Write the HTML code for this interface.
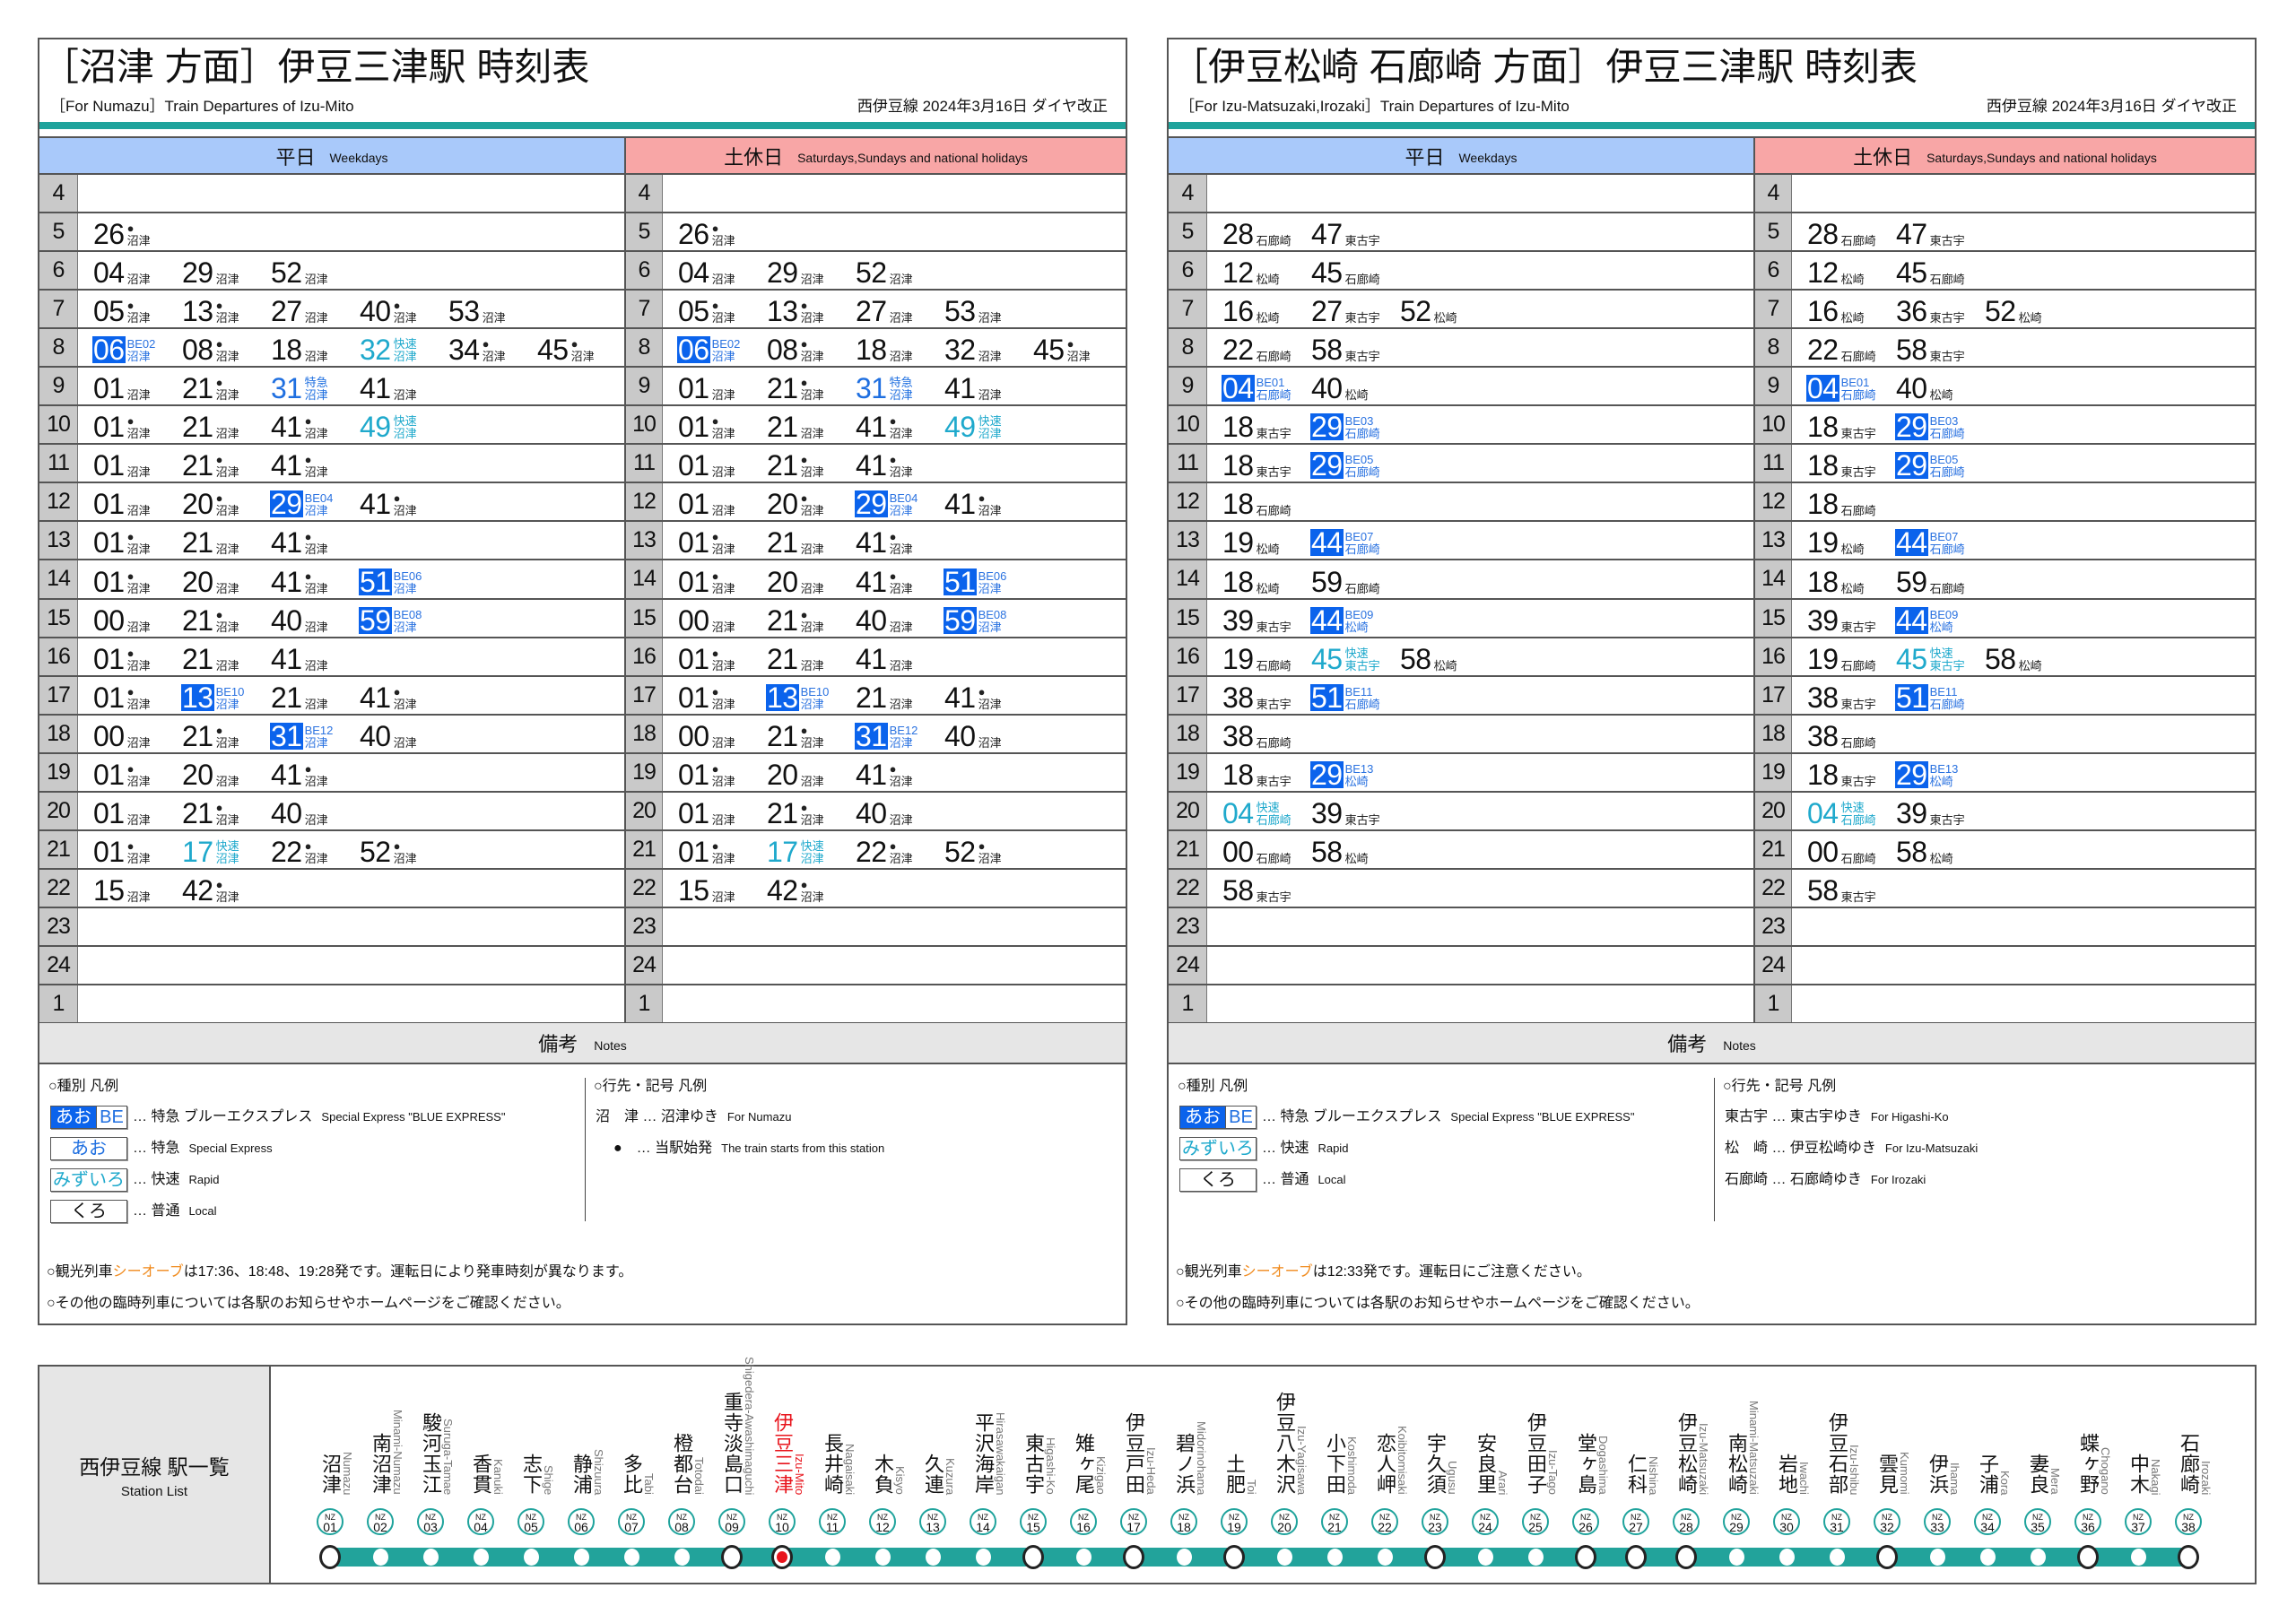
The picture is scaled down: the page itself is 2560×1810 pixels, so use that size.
<!DOCTYPE html>
<html><head><meta charset="utf-8"><style>
*{box-sizing:border-box;margin:0;padding:0}
body{width:2560px;height:1810px;background:#fff;position:relative;overflow:hidden;font-family:"Liberation Sans","Noto Sans CJK JP",sans-serif;color:#111}
.p{position:absolute;top:42px;width:1215px;height:1436px;border:2px solid #555;background:#fff}
.ttl{position:absolute;left:2px;top:6px;font-size:42px;line-height:50px;white-space:nowrap}
.sub{position:absolute;left:12px;top:64px;font-size:17px;line-height:22px}
.rev{position:absolute;right:20px;top:64px;font-size:17px;line-height:22px}
.bar{position:absolute;left:0;right:0;top:92px;height:8px;background:#1fa39c}
.hd{position:absolute;top:108px;left:0;right:0;height:43px;display:grid;grid-template-columns:652px 1fr;border-top:2px solid #555;border-bottom:2px solid #555}
.hd div{display:flex;align-items:center;justify-content:center;font-size:22px}
.hd small{font-size:14px;margin-left:16px;margin-top:4px}
.wk{background:#a9c9fa}.hol{background:#f8a6a6;border-left:2px solid #555}
.tb{position:absolute;top:151px;left:0;right:0}
.r{height:43.05px;display:grid;grid-template-columns:43px 609px 43px 1fr;border-bottom:2px solid #555}
.h{background:#c9c9c9;font-size:25px;display:flex;align-items:center;justify-content:center;border-right:1px solid #777;letter-spacing:-1px}
.h2{border-left:2px solid #555}
.c{display:flex;padding-left:16px;align-items:flex-end}
.e{width:99px;display:flex;align-items:flex-end;height:41px;padding-bottom:3px;flex:none}
.e b{font-weight:normal;font-size:32px;line-height:30px;letter-spacing:-0.5px;padding:0 1px}
.e i{font-style:normal;font-size:13px;line-height:14px;display:flex;flex-direction:column;margin-left:2px;color:#222}
.e u{text-decoration:none;height:15px;font-size:13px;line-height:15px}
.be b{background:#0b63ec;color:#fff}.be i{color:#2a72e0}
.lt b,.lt i{color:#1f6fe0}
.rp b,.rp i{color:#1fa9cc}
.nh{position:absolute;left:0;right:0;top:1097px;height:46px;background:#e6e6e6;border-bottom:2px solid #555;display:flex;align-items:center;justify-content:center;font-size:22px}
.nh small{font-size:14px;margin-left:18px;margin-top:6px}
.nt{position:absolute;font-size:16px;line-height:20px;white-space:nowrap}
.nt small{font-size:13px;margin-left:10px}
.bx{position:absolute;width:86px;height:26px;border:1px solid #555;box-shadow:1px 1px 0 #999;font-size:20px;line-height:24px;text-align:center}
.dv{position:absolute;width:1px;background:#444}
.sl{position:absolute;left:42px;top:1522px;width:2474px;height:245px;border:2px solid #555}
.sll{position:absolute;left:0;top:0;width:258px;height:100%;background:#e6e6e6;border-right:2px solid #555;display:flex;flex-direction:column;align-items:center;justify-content:center;font-size:23px}
.sll small{font-size:15px;margin-top:4px}
.trk{position:absolute;left:324px;top:202px;width:2072px;height:21px;background:#22a39b}
.st{position:absolute;top:0;height:143px;width:0}
.k{position:absolute;bottom:0;left:-12px;writing-mode:vertical-rl;font-size:22px;line-height:24px;letter-spacing:1px;white-space:nowrap}
.ro{position:absolute;bottom:0;left:12px;writing-mode:vertical-rl;font-size:13px;line-height:14px;color:#777;white-space:nowrap}
.nz{position:absolute;top:158px;width:30px;height:30px;margin-left:-15px;border:2px solid #1fa39c;border-radius:50%;text-align:center;font-size:9px;line-height:9px;padding-top:4px}
.nz span{display:block;font-size:14px;line-height:13px}
.dt{position:absolute;top:203px;width:17px;height:19px;margin-left:-8px;border-radius:50%;background:#fff}
.mj{position:absolute;top:199px;width:24px;height:27px;margin-left:-12px;border-radius:50%;background:#fff;border:3px solid #222}
</style></head><body>

<!-- LEFT PANEL -->
<div class="p" style="left:42px">
<div class="ttl">［沼津 方面］伊豆三津駅 時刻表</div>
<div class="sub">［For Numazu］Train Departures of Izu-Mito</div>
<div class="rev">西伊豆線 2024年3月16日 ダイヤ改正</div>
<div class="bar"></div>
<div class="hd"><div class="wk">平日<small>Weekdays</small></div><div class="hol">土休日<small>Saturdays,Sundays and national holidays</small></div></div>
<div class="tb">
<div class="r"><div class="h">4</div><div class="c"></div><div class="h h2">4</div><div class="c"></div></div>
<div class="r"><div class="h">5</div><div class="c"><span class="e"><b>26</b><i><u>●</u>沼津</i></span></div><div class="h h2">5</div><div class="c"><span class="e"><b>26</b><i><u>●</u>沼津</i></span></div></div>
<div class="r"><div class="h">6</div><div class="c"><span class="e"><b>04</b><i><u></u>沼津</i></span><span class="e"><b>29</b><i><u></u>沼津</i></span><span class="e"><b>52</b><i><u></u>沼津</i></span></div><div class="h h2">6</div><div class="c"><span class="e"><b>04</b><i><u></u>沼津</i></span><span class="e"><b>29</b><i><u></u>沼津</i></span><span class="e"><b>52</b><i><u></u>沼津</i></span></div></div>
<div class="r"><div class="h">7</div><div class="c"><span class="e"><b>05</b><i><u>●</u>沼津</i></span><span class="e"><b>13</b><i><u>●</u>沼津</i></span><span class="e"><b>27</b><i><u></u>沼津</i></span><span class="e"><b>40</b><i><u>●</u>沼津</i></span><span class="e"><b>53</b><i><u></u>沼津</i></span></div><div class="h h2">7</div><div class="c"><span class="e"><b>05</b><i><u>●</u>沼津</i></span><span class="e"><b>13</b><i><u>●</u>沼津</i></span><span class="e"><b>27</b><i><u></u>沼津</i></span><span class="e"><b>53</b><i><u></u>沼津</i></span></div></div>
<div class="r"><div class="h">8</div><div class="c"><span class="e be"><b>06</b><i><u>BE02</u>沼津</i></span><span class="e"><b>08</b><i><u>●</u>沼津</i></span><span class="e"><b>18</b><i><u></u>沼津</i></span><span class="e rp"><b>32</b><i><u>快速</u>沼津</i></span><span class="e"><b>34</b><i><u>●</u>沼津</i></span><span class="e"><b>45</b><i><u>●</u>沼津</i></span></div><div class="h h2">8</div><div class="c"><span class="e be"><b>06</b><i><u>BE02</u>沼津</i></span><span class="e"><b>08</b><i><u>●</u>沼津</i></span><span class="e"><b>18</b><i><u></u>沼津</i></span><span class="e"><b>32</b><i><u></u>沼津</i></span><span class="e"><b>45</b><i><u>●</u>沼津</i></span></div></div>
<div class="r"><div class="h">9</div><div class="c"><span class="e"><b>01</b><i><u></u>沼津</i></span><span class="e"><b>21</b><i><u>●</u>沼津</i></span><span class="e lt"><b>31</b><i><u>特急</u>沼津</i></span><span class="e"><b>41</b><i><u></u>沼津</i></span></div><div class="h h2">9</div><div class="c"><span class="e"><b>01</b><i><u></u>沼津</i></span><span class="e"><b>21</b><i><u>●</u>沼津</i></span><span class="e lt"><b>31</b><i><u>特急</u>沼津</i></span><span class="e"><b>41</b><i><u></u>沼津</i></span></div></div>
<div class="r"><div class="h">10</div><div class="c"><span class="e"><b>01</b><i><u>●</u>沼津</i></span><span class="e"><b>21</b><i><u></u>沼津</i></span><span class="e"><b>41</b><i><u>●</u>沼津</i></span><span class="e rp"><b>49</b><i><u>快速</u>沼津</i></span></div><div class="h h2">10</div><div class="c"><span class="e"><b>01</b><i><u>●</u>沼津</i></span><span class="e"><b>21</b><i><u></u>沼津</i></span><span class="e"><b>41</b><i><u>●</u>沼津</i></span><span class="e rp"><b>49</b><i><u>快速</u>沼津</i></span></div></div>
<div class="r"><div class="h">11</div><div class="c"><span class="e"><b>01</b><i><u></u>沼津</i></span><span class="e"><b>21</b><i><u>●</u>沼津</i></span><span class="e"><b>41</b><i><u>●</u>沼津</i></span></div><div class="h h2">11</div><div class="c"><span class="e"><b>01</b><i><u></u>沼津</i></span><span class="e"><b>21</b><i><u>●</u>沼津</i></span><span class="e"><b>41</b><i><u>●</u>沼津</i></span></div></div>
<div class="r"><div class="h">12</div><div class="c"><span class="e"><b>01</b><i><u></u>沼津</i></span><span class="e"><b>20</b><i><u>●</u>沼津</i></span><span class="e be"><b>29</b><i><u>BE04</u>沼津</i></span><span class="e"><b>41</b><i><u>●</u>沼津</i></span></div><div class="h h2">12</div><div class="c"><span class="e"><b>01</b><i><u></u>沼津</i></span><span class="e"><b>20</b><i><u>●</u>沼津</i></span><span class="e be"><b>29</b><i><u>BE04</u>沼津</i></span><span class="e"><b>41</b><i><u>●</u>沼津</i></span></div></div>
<div class="r"><div class="h">13</div><div class="c"><span class="e"><b>01</b><i><u>●</u>沼津</i></span><span class="e"><b>21</b><i><u></u>沼津</i></span><span class="e"><b>41</b><i><u>●</u>沼津</i></span></div><div class="h h2">13</div><div class="c"><span class="e"><b>01</b><i><u>●</u>沼津</i></span><span class="e"><b>21</b><i><u></u>沼津</i></span><span class="e"><b>41</b><i><u>●</u>沼津</i></span></div></div>
<div class="r"><div class="h">14</div><div class="c"><span class="e"><b>01</b><i><u>●</u>沼津</i></span><span class="e"><b>20</b><i><u></u>沼津</i></span><span class="e"><b>41</b><i><u>●</u>沼津</i></span><span class="e be"><b>51</b><i><u>BE06</u>沼津</i></span></div><div class="h h2">14</div><div class="c"><span class="e"><b>01</b><i><u>●</u>沼津</i></span><span class="e"><b>20</b><i><u></u>沼津</i></span><span class="e"><b>41</b><i><u>●</u>沼津</i></span><span class="e be"><b>51</b><i><u>BE06</u>沼津</i></span></div></div>
<div class="r"><div class="h">15</div><div class="c"><span class="e"><b>00</b><i><u></u>沼津</i></span><span class="e"><b>21</b><i><u>●</u>沼津</i></span><span class="e"><b>40</b><i><u></u>沼津</i></span><span class="e be"><b>59</b><i><u>BE08</u>沼津</i></span></div><div class="h h2">15</div><div class="c"><span class="e"><b>00</b><i><u></u>沼津</i></span><span class="e"><b>21</b><i><u>●</u>沼津</i></span><span class="e"><b>40</b><i><u></u>沼津</i></span><span class="e be"><b>59</b><i><u>BE08</u>沼津</i></span></div></div>
<div class="r"><div class="h">16</div><div class="c"><span class="e"><b>01</b><i><u>●</u>沼津</i></span><span class="e"><b>21</b><i><u></u>沼津</i></span><span class="e"><b>41</b><i><u></u>沼津</i></span></div><div class="h h2">16</div><div class="c"><span class="e"><b>01</b><i><u>●</u>沼津</i></span><span class="e"><b>21</b><i><u></u>沼津</i></span><span class="e"><b>41</b><i><u></u>沼津</i></span></div></div>
<div class="r"><div class="h">17</div><div class="c"><span class="e"><b>01</b><i><u>●</u>沼津</i></span><span class="e be"><b>13</b><i><u>BE10</u>沼津</i></span><span class="e"><b>21</b><i><u></u>沼津</i></span><span class="e"><b>41</b><i><u>●</u>沼津</i></span></div><div class="h h2">17</div><div class="c"><span class="e"><b>01</b><i><u>●</u>沼津</i></span><span class="e be"><b>13</b><i><u>BE10</u>沼津</i></span><span class="e"><b>21</b><i><u></u>沼津</i></span><span class="e"><b>41</b><i><u>●</u>沼津</i></span></div></div>
<div class="r"><div class="h">18</div><div class="c"><span class="e"><b>00</b><i><u></u>沼津</i></span><span class="e"><b>21</b><i><u>●</u>沼津</i></span><span class="e be"><b>31</b><i><u>BE12</u>沼津</i></span><span class="e"><b>40</b><i><u></u>沼津</i></span></div><div class="h h2">18</div><div class="c"><span class="e"><b>00</b><i><u></u>沼津</i></span><span class="e"><b>21</b><i><u>●</u>沼津</i></span><span class="e be"><b>31</b><i><u>BE12</u>沼津</i></span><span class="e"><b>40</b><i><u></u>沼津</i></span></div></div>
<div class="r"><div class="h">19</div><div class="c"><span class="e"><b>01</b><i><u>●</u>沼津</i></span><span class="e"><b>20</b><i><u></u>沼津</i></span><span class="e"><b>41</b><i><u>●</u>沼津</i></span></div><div class="h h2">19</div><div class="c"><span class="e"><b>01</b><i><u>●</u>沼津</i></span><span class="e"><b>20</b><i><u></u>沼津</i></span><span class="e"><b>41</b><i><u>●</u>沼津</i></span></div></div>
<div class="r"><div class="h">20</div><div class="c"><span class="e"><b>01</b><i><u></u>沼津</i></span><span class="e"><b>21</b><i><u>●</u>沼津</i></span><span class="e"><b>40</b><i><u></u>沼津</i></span></div><div class="h h2">20</div><div class="c"><span class="e"><b>01</b><i><u></u>沼津</i></span><span class="e"><b>21</b><i><u>●</u>沼津</i></span><span class="e"><b>40</b><i><u></u>沼津</i></span></div></div>
<div class="r"><div class="h">21</div><div class="c"><span class="e"><b>01</b><i><u>●</u>沼津</i></span><span class="e rp"><b>17</b><i><u>快速</u>沼津</i></span><span class="e"><b>22</b><i><u>●</u>沼津</i></span><span class="e"><b>52</b><i><u>●</u>沼津</i></span></div><div class="h h2">21</div><div class="c"><span class="e"><b>01</b><i><u>●</u>沼津</i></span><span class="e rp"><b>17</b><i><u>快速</u>沼津</i></span><span class="e"><b>22</b><i><u>●</u>沼津</i></span><span class="e"><b>52</b><i><u>●</u>沼津</i></span></div></div>
<div class="r"><div class="h">22</div><div class="c"><span class="e"><b>15</b><i><u></u>沼津</i></span><span class="e"><b>42</b><i><u>●</u>沼津</i></span></div><div class="h h2">22</div><div class="c"><span class="e"><b>15</b><i><u></u>沼津</i></span><span class="e"><b>42</b><i><u>●</u>沼津</i></span></div></div>
<div class="r"><div class="h">23</div><div class="c"></div><div class="h h2">23</div><div class="c"></div></div>
<div class="r"><div class="h">24</div><div class="c"></div><div class="h h2">24</div><div class="c"></div></div>
<div class="r"><div class="h">1</div><div class="c"></div><div class="h h2">1</div><div class="c"></div></div>
</div>
<div class="nh">備考<small>Notes</small></div>
<div class="nt" style="left:10px;top:1158px">○種別 凡例</div>
<div class="bx" style="left:12px;top:1189px;display:flex;padding:0"><span style="flex:1;background:#0b63ec;color:#fff">あお</span><span style="width:34px;color:#1f6fe0;border-left:1px solid #555">BE</span></div>
<div class="nt" style="left:104px;top:1192px">… 特急 ブルーエクスプレス<small>Special Express "BLUE EXPRESS"</small></div>
<div class="bx" style="left:12px;top:1224px;color:#1f6fe0">あお</div>
<div class="nt" style="left:104px;top:1227px">… 特急<small>Special Express</small></div>
<div class="bx" style="left:12px;top:1259px;color:#1fa9cc">みずいろ</div>
<div class="nt" style="left:104px;top:1262px">… 快速<small>Rapid</small></div>
<div class="bx" style="left:12px;top:1294px">くろ</div>
<div class="nt" style="left:104px;top:1297px">… 普通<small>Local</small></div>
<div class="dv" style="left:608px;top:1158px;height:160px"></div>
<div class="nt" style="left:618px;top:1158px">○行先・記号 凡例</div>
<div class="nt" style="left:620px;top:1192px">沼　津 … 沼津ゆき<small>For Numazu</small></div>
<div class="nt" style="left:640px;top:1227px">●　… 当駅始発<small>The train starts from this station</small></div>
<div class="nt" style="left:8px;top:1365px">○観光列車<span style="color:#f08a1c">シーオーブ</span>は17:36、18:48、19:28発です。運転日により発車時刻が異なります。</div>
<div class="nt" style="left:8px;top:1400px">○その他の臨時列車については各駅のお知らせやホームページをご確認ください。</div>
</div>

<!-- RIGHT PANEL -->
<div class="p" style="left:1301px">
<div class="ttl">［伊豆松崎 石廊崎 方面］伊豆三津駅 時刻表</div>
<div class="sub">［For Izu-Matsuzaki,Irozaki］Train Departures of Izu-Mito</div>
<div class="rev">西伊豆線 2024年3月16日 ダイヤ改正</div>
<div class="bar"></div>
<div class="hd"><div class="wk">平日<small>Weekdays</small></div><div class="hol">土休日<small>Saturdays,Sundays and national holidays</small></div></div>
<div class="tb">
<div class="r"><div class="h">4</div><div class="c"></div><div class="h h2">4</div><div class="c"></div></div>
<div class="r"><div class="h">5</div><div class="c"><span class="e"><b>28</b><i><u></u>石廊崎</i></span><span class="e"><b>47</b><i><u></u>東古宇</i></span></div><div class="h h2">5</div><div class="c"><span class="e"><b>28</b><i><u></u>石廊崎</i></span><span class="e"><b>47</b><i><u></u>東古宇</i></span></div></div>
<div class="r"><div class="h">6</div><div class="c"><span class="e"><b>12</b><i><u></u>松崎</i></span><span class="e"><b>45</b><i><u></u>石廊崎</i></span></div><div class="h h2">6</div><div class="c"><span class="e"><b>12</b><i><u></u>松崎</i></span><span class="e"><b>45</b><i><u></u>石廊崎</i></span></div></div>
<div class="r"><div class="h">7</div><div class="c"><span class="e"><b>16</b><i><u></u>松崎</i></span><span class="e"><b>27</b><i><u></u>東古宇</i></span><span class="e"><b>52</b><i><u></u>松崎</i></span></div><div class="h h2">7</div><div class="c"><span class="e"><b>16</b><i><u></u>松崎</i></span><span class="e"><b>36</b><i><u></u>東古宇</i></span><span class="e"><b>52</b><i><u></u>松崎</i></span></div></div>
<div class="r"><div class="h">8</div><div class="c"><span class="e"><b>22</b><i><u></u>石廊崎</i></span><span class="e"><b>58</b><i><u></u>東古宇</i></span></div><div class="h h2">8</div><div class="c"><span class="e"><b>22</b><i><u></u>石廊崎</i></span><span class="e"><b>58</b><i><u></u>東古宇</i></span></div></div>
<div class="r"><div class="h">9</div><div class="c"><span class="e be"><b>04</b><i><u>BE01</u>石廊崎</i></span><span class="e"><b>40</b><i><u></u>松崎</i></span></div><div class="h h2">9</div><div class="c"><span class="e be"><b>04</b><i><u>BE01</u>石廊崎</i></span><span class="e"><b>40</b><i><u></u>松崎</i></span></div></div>
<div class="r"><div class="h">10</div><div class="c"><span class="e"><b>18</b><i><u></u>東古宇</i></span><span class="e be"><b>29</b><i><u>BE03</u>石廊崎</i></span></div><div class="h h2">10</div><div class="c"><span class="e"><b>18</b><i><u></u>東古宇</i></span><span class="e be"><b>29</b><i><u>BE03</u>石廊崎</i></span></div></div>
<div class="r"><div class="h">11</div><div class="c"><span class="e"><b>18</b><i><u></u>東古宇</i></span><span class="e be"><b>29</b><i><u>BE05</u>石廊崎</i></span></div><div class="h h2">11</div><div class="c"><span class="e"><b>18</b><i><u></u>東古宇</i></span><span class="e be"><b>29</b><i><u>BE05</u>石廊崎</i></span></div></div>
<div class="r"><div class="h">12</div><div class="c"><span class="e"><b>18</b><i><u></u>石廊崎</i></span></div><div class="h h2">12</div><div class="c"><span class="e"><b>18</b><i><u></u>石廊崎</i></span></div></div>
<div class="r"><div class="h">13</div><div class="c"><span class="e"><b>19</b><i><u></u>松崎</i></span><span class="e be"><b>44</b><i><u>BE07</u>石廊崎</i></span></div><div class="h h2">13</div><div class="c"><span class="e"><b>19</b><i><u></u>松崎</i></span><span class="e be"><b>44</b><i><u>BE07</u>石廊崎</i></span></div></div>
<div class="r"><div class="h">14</div><div class="c"><span class="e"><b>18</b><i><u></u>松崎</i></span><span class="e"><b>59</b><i><u></u>石廊崎</i></span></div><div class="h h2">14</div><div class="c"><span class="e"><b>18</b><i><u></u>松崎</i></span><span class="e"><b>59</b><i><u></u>石廊崎</i></span></div></div>
<div class="r"><div class="h">15</div><div class="c"><span class="e"><b>39</b><i><u></u>東古宇</i></span><span class="e be"><b>44</b><i><u>BE09</u>松崎</i></span></div><div class="h h2">15</div><div class="c"><span class="e"><b>39</b><i><u></u>東古宇</i></span><span class="e be"><b>44</b><i><u>BE09</u>松崎</i></span></div></div>
<div class="r"><div class="h">16</div><div class="c"><span class="e"><b>19</b><i><u></u>石廊崎</i></span><span class="e rp"><b>45</b><i><u>快速</u>東古宇</i></span><span class="e"><b>58</b><i><u></u>松崎</i></span></div><div class="h h2">16</div><div class="c"><span class="e"><b>19</b><i><u></u>石廊崎</i></span><span class="e rp"><b>45</b><i><u>快速</u>東古宇</i></span><span class="e"><b>58</b><i><u></u>松崎</i></span></div></div>
<div class="r"><div class="h">17</div><div class="c"><span class="e"><b>38</b><i><u></u>東古宇</i></span><span class="e be"><b>51</b><i><u>BE11</u>石廊崎</i></span></div><div class="h h2">17</div><div class="c"><span class="e"><b>38</b><i><u></u>東古宇</i></span><span class="e be"><b>51</b><i><u>BE11</u>石廊崎</i></span></div></div>
<div class="r"><div class="h">18</div><div class="c"><span class="e"><b>38</b><i><u></u>石廊崎</i></span></div><div class="h h2">18</div><div class="c"><span class="e"><b>38</b><i><u></u>石廊崎</i></span></div></div>
<div class="r"><div class="h">19</div><div class="c"><span class="e"><b>18</b><i><u></u>東古宇</i></span><span class="e be"><b>29</b><i><u>BE13</u>松崎</i></span></div><div class="h h2">19</div><div class="c"><span class="e"><b>18</b><i><u></u>東古宇</i></span><span class="e be"><b>29</b><i><u>BE13</u>松崎</i></span></div></div>
<div class="r"><div class="h">20</div><div class="c"><span class="e rp"><b>04</b><i><u>快速</u>石廊崎</i></span><span class="e"><b>39</b><i><u></u>東古宇</i></span></div><div class="h h2">20</div><div class="c"><span class="e rp"><b>04</b><i><u>快速</u>石廊崎</i></span><span class="e"><b>39</b><i><u></u>東古宇</i></span></div></div>
<div class="r"><div class="h">21</div><div class="c"><span class="e"><b>00</b><i><u></u>石廊崎</i></span><span class="e"><b>58</b><i><u></u>松崎</i></span></div><div class="h h2">21</div><div class="c"><span class="e"><b>00</b><i><u></u>石廊崎</i></span><span class="e"><b>58</b><i><u></u>松崎</i></span></div></div>
<div class="r"><div class="h">22</div><div class="c"><span class="e"><b>58</b><i><u></u>東古宇</i></span></div><div class="h h2">22</div><div class="c"><span class="e"><b>58</b><i><u></u>東古宇</i></span></div></div>
<div class="r"><div class="h">23</div><div class="c"></div><div class="h h2">23</div><div class="c"></div></div>
<div class="r"><div class="h">24</div><div class="c"></div><div class="h h2">24</div><div class="c"></div></div>
<div class="r"><div class="h">1</div><div class="c"></div><div class="h h2">1</div><div class="c"></div></div>
</div>
<div class="nh">備考<small>Notes</small></div>
<div class="nt" style="left:10px;top:1158px">○種別 凡例</div>
<div class="bx" style="left:12px;top:1189px;display:flex;padding:0"><span style="flex:1;background:#0b63ec;color:#fff">あお</span><span style="width:34px;color:#1f6fe0;border-left:1px solid #555">BE</span></div>
<div class="nt" style="left:104px;top:1192px">… 特急 ブルーエクスプレス<small>Special Express "BLUE EXPRESS"</small></div>
<div class="bx" style="left:12px;top:1224px;color:#1fa9cc">みずいろ</div>
<div class="nt" style="left:104px;top:1227px">… 快速<small>Rapid</small></div>
<div class="bx" style="left:12px;top:1259px">くろ</div>
<div class="nt" style="left:104px;top:1262px">… 普通<small>Local</small></div>
<div class="dv" style="left:608px;top:1158px;height:160px"></div>
<div class="nt" style="left:618px;top:1158px">○行先・記号 凡例</div>
<div class="nt" style="left:620px;top:1192px">東古宇 … 東古宇ゆき<small>For Higashi-Ko</small></div>
<div class="nt" style="left:620px;top:1227px">松　崎 … 伊豆松崎ゆき<small>For Izu-Matsuzaki</small></div>
<div class="nt" style="left:620px;top:1262px">石廊崎 … 石廊崎ゆき<small>For Irozaki</small></div>
<div class="nt" style="left:8px;top:1365px">○観光列車<span style="color:#f08a1c">シーオーブ</span>は12:33発です。運転日にご注意ください。</div>
<div class="nt" style="left:8px;top:1400px">○その他の臨時列車については各駅のお知らせやホームページをご確認ください。</div>
</div>

<!-- STATION LIST -->
<div class="sl">
<div class="sll">西伊豆線 駅一覧<small>Station List</small></div>
<div class="trk"></div>
<div class="st" style="left:324px"><span class="k">沼津</span><span class="ro">Numazu</span></div>
<div class="st" style="left:380px"><span class="k">南沼津</span><span class="ro">Minami-Numazu</span></div>
<div class="st" style="left:436px"><span class="k">駿河玉江</span><span class="ro">Suruga-Tamae</span></div>
<div class="st" style="left:492px"><span class="k">香貫</span><span class="ro">Kanuki</span></div>
<div class="st" style="left:548px"><span class="k">志下</span><span class="ro">Shige</span></div>
<div class="st" style="left:604px"><span class="k">静浦</span><span class="ro">Shizuura</span></div>
<div class="st" style="left:660px"><span class="k">多比</span><span class="ro">Tabi</span></div>
<div class="st" style="left:716px"><span class="k">橙都台</span><span class="ro">Totodai</span></div>
<div class="st" style="left:772px"><span class="k">重寺淡島口</span><span class="ro">Shigedera-Awashimaguchi</span></div>
<div class="st" style="left:828px"><span class="k" style="color:#e8141c">伊豆三津</span><span class="ro" style="color:#e8141c">Izu-Mito</span></div>
<div class="st" style="left:884px"><span class="k">長井崎</span><span class="ro">Nagaisaki</span></div>
<div class="st" style="left:940px"><span class="k">木負</span><span class="ro">Kisyo</span></div>
<div class="st" style="left:996px"><span class="k">久連</span><span class="ro">Kuzura</span></div>
<div class="st" style="left:1052px"><span class="k">平沢海岸</span><span class="ro">Hirasawakaigan</span></div>
<div class="st" style="left:1108px"><span class="k">東古宇</span><span class="ro">Higashi-Ko</span></div>
<div class="st" style="left:1164px"><span class="k">雉ヶ尾</span><span class="ro">Kizigao</span></div>
<div class="st" style="left:1220px"><span class="k">伊豆戸田</span><span class="ro">Izu-Heda</span></div>
<div class="st" style="left:1276px"><span class="k">碧ノ浜</span><span class="ro">Midorinohama</span></div>
<div class="st" style="left:1332px"><span class="k">土肥</span><span class="ro">Toi</span></div>
<div class="st" style="left:1388px"><span class="k">伊豆八木沢</span><span class="ro">Izu-Yagisawa</span></div>
<div class="st" style="left:1444px"><span class="k">小下田</span><span class="ro">Koshimoda</span></div>
<div class="st" style="left:1500px"><span class="k">恋人岬</span><span class="ro">Koibitomisaki</span></div>
<div class="st" style="left:1556px"><span class="k">宇久須</span><span class="ro">Ugusu</span></div>
<div class="st" style="left:1612px"><span class="k">安良里</span><span class="ro">Arari</span></div>
<div class="st" style="left:1668px"><span class="k">伊豆田子</span><span class="ro">Izu-Tago</span></div>
<div class="st" style="left:1724px"><span class="k">堂ヶ島</span><span class="ro">Dogashima</span></div>
<div class="st" style="left:1780px"><span class="k">仁科</span><span class="ro">Nishina</span></div>
<div class="st" style="left:1836px"><span class="k">伊豆松崎</span><span class="ro">Izu-Matsuzaki</span></div>
<div class="st" style="left:1892px"><span class="k">南松崎</span><span class="ro">Minami-Matsuzaki</span></div>
<div class="st" style="left:1948px"><span class="k">岩地</span><span class="ro">Iwachi</span></div>
<div class="st" style="left:2004px"><span class="k">伊豆石部</span><span class="ro">Izu-Ishibu</span></div>
<div class="st" style="left:2060px"><span class="k">雲見</span><span class="ro">Kumomi</span></div>
<div class="st" style="left:2116px"><span class="k">伊浜</span><span class="ro">Ihama</span></div>
<div class="st" style="left:2172px"><span class="k">子浦</span><span class="ro">Kora</span></div>
<div class="st" style="left:2228px"><span class="k">妻良</span><span class="ro">Mera</span></div>
<div class="st" style="left:2284px"><span class="k">蝶ヶ野</span><span class="ro">Chogano</span></div>
<div class="st" style="left:2340px"><span class="k">中木</span><span class="ro">Nakagi</span></div>
<div class="st" style="left:2396px"><span class="k">石廊崎</span><span class="ro">Irozaki</span></div>

<div class="nz" style="left:324px">NZ<span>01</span></div><div class="nz" style="left:380px">NZ<span>02</span></div><div class="nz" style="left:436px">NZ<span>03</span></div><div class="nz" style="left:492px">NZ<span>04</span></div><div class="nz" style="left:548px">NZ<span>05</span></div><div class="nz" style="left:604px">NZ<span>06</span></div><div class="nz" style="left:660px">NZ<span>07</span></div><div class="nz" style="left:716px">NZ<span>08</span></div><div class="nz" style="left:772px">NZ<span>09</span></div><div class="nz" style="left:828px">NZ<span>10</span></div><div class="nz" style="left:884px">NZ<span>11</span></div><div class="nz" style="left:940px">NZ<span>12</span></div><div class="nz" style="left:996px">NZ<span>13</span></div><div class="nz" style="left:1052px">NZ<span>14</span></div><div class="nz" style="left:1108px">NZ<span>15</span></div><div class="nz" style="left:1164px">NZ<span>16</span></div><div class="nz" style="left:1220px">NZ<span>17</span></div><div class="nz" style="left:1276px">NZ<span>18</span></div><div class="nz" style="left:1332px">NZ<span>19</span></div><div class="nz" style="left:1388px">NZ<span>20</span></div><div class="nz" style="left:1444px">NZ<span>21</span></div><div class="nz" style="left:1500px">NZ<span>22</span></div><div class="nz" style="left:1556px">NZ<span>23</span></div><div class="nz" style="left:1612px">NZ<span>24</span></div><div class="nz" style="left:1668px">NZ<span>25</span></div><div class="nz" style="left:1724px">NZ<span>26</span></div><div class="nz" style="left:1780px">NZ<span>27</span></div><div class="nz" style="left:1836px">NZ<span>28</span></div><div class="nz" style="left:1892px">NZ<span>29</span></div><div class="nz" style="left:1948px">NZ<span>30</span></div><div class="nz" style="left:2004px">NZ<span>31</span></div><div class="nz" style="left:2060px">NZ<span>32</span></div><div class="nz" style="left:2116px">NZ<span>33</span></div><div class="nz" style="left:2172px">NZ<span>34</span></div><div class="nz" style="left:2228px">NZ<span>35</span></div><div class="nz" style="left:2284px">NZ<span>36</span></div><div class="nz" style="left:2340px">NZ<span>37</span></div><div class="nz" style="left:2396px">NZ<span>38</span></div>

<div class="mj" style="left:324px"></div><div class="dt" style="left:380px"></div><div class="dt" style="left:436px"></div><div class="dt" style="left:492px"></div><div class="dt" style="left:548px"></div><div class="dt" style="left:604px"></div><div class="dt" style="left:660px"></div><div class="dt" style="left:716px"></div><div class="mj" style="left:772px"></div><div class="mj" style="left:828px"><div style="position:absolute;left:3px;top:4px;width:12px;height:13px;border-radius:50%;background:#e8141c"></div></div><div class="dt" style="left:884px"></div><div class="dt" style="left:940px"></div><div class="dt" style="left:996px"></div><div class="dt" style="left:1052px"></div><div class="mj" style="left:1108px"></div><div class="dt" style="left:1164px"></div><div class="mj" style="left:1220px"></div><div class="dt" style="left:1276px"></div><div class="mj" style="left:1332px"></div><div class="dt" style="left:1388px"></div><div class="dt" style="left:1444px"></div><div class="dt" style="left:1500px"></div><div class="mj" style="left:1556px"></div><div class="dt" style="left:1612px"></div><div class="dt" style="left:1668px"></div><div class="mj" style="left:1724px"></div><div class="mj" style="left:1780px"></div><div class="mj" style="left:1836px"></div><div class="dt" style="left:1892px"></div><div class="dt" style="left:1948px"></div><div class="dt" style="left:2004px"></div><div class="mj" style="left:2060px"></div><div class="dt" style="left:2116px"></div><div class="dt" style="left:2172px"></div><div class="dt" style="left:2228px"></div><div class="mj" style="left:2284px"></div><div class="dt" style="left:2340px"></div><div class="mj" style="left:2396px"></div>
</div>
</body></html>
